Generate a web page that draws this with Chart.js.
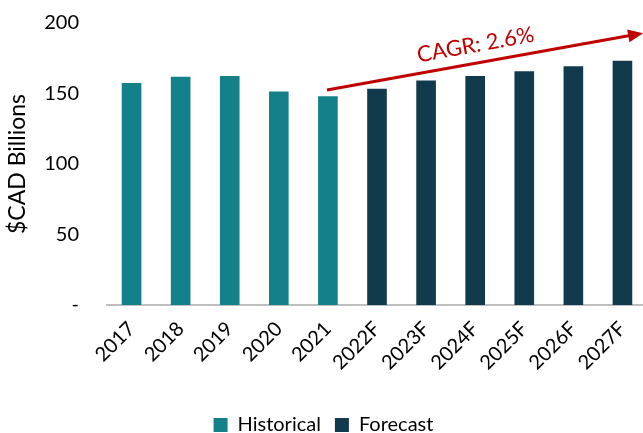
<!DOCTYPE html>
<html>
<head>
<meta charset="utf-8">
<script src="https://cdn.jsdelivr.net/npm/chart.js@4/dist/chart.umd.min.js"></script>
<style>
  html, body { margin: 0; padding: 0; background: #fff; overflow: hidden; }
  #wrap { width: 647px; height: 433px; }
</style>
</head>
<body>
<div id="wrap"><canvas id="chart"></canvas></div>
<script>
// chart data
const years = ["2017", "2018", "2019", "2020", "2021", "2022F", "2023F", "2024F", "2025F", "2026F", "2027F"];
const historical = [157.5, 161.8, 162.5, 151.4, 148.1, null, null, null, null, null, null];
const forecast = [null, null, null, null, null, 153.3, 159.2, 162.5, 165.8, 169.3, 173.2];
const yTicks = [0, 50, 100, 150, 200];
const cagrLabel = "CAGR: 2.6%";
// arrow anchors: [category index, value]
const cagrFrom = [3.98, 152.5];
const cagrTo = [10.42, 192.8];

const FONT = "Lato, 'Open Sans', sans-serif";

// draws the red CAGR arrow + label using the chart scales
const cagrArrow = {
  id: "cagrArrow",
  afterDatasetsDraw(chart) {
    const { ctx, scales } = chart;
    const x1 = scales.x.getPixelForValue(cagrFrom[0]);
    const y1 = scales.y.getPixelForValue(cagrFrom[1]);
    const x2 = scales.x.getPixelForValue(cagrTo[0]);
    const y2 = scales.y.getPixelForValue(cagrTo[1]);
    const ang = Math.atan2(y2 - y1, x2 - x1);
    const head = 15;

    ctx.save();
    ctx.strokeStyle = "#C00000";
    ctx.fillStyle = "#C00000";
    ctx.lineWidth = 3;
    ctx.beginPath();
    ctx.moveTo(x1, y1);
    ctx.lineTo(x2 - head * 0.8 * Math.cos(ang), y2 - head * 0.8 * Math.sin(ang));
    ctx.stroke();

    ctx.translate(x2, y2);
    ctx.rotate(ang);
    ctx.beginPath();
    ctx.moveTo(0, 0);
    ctx.lineTo(-head, -6.5);
    ctx.lineTo(-head, 6.5);
    ctx.closePath();
    ctx.fill();
    ctx.restore();

    // label above the arrow
    ctx.save();
    const mx = x1 + (x2 - x1) * 0.48;
    const my = y1 + (y2 - y1) * 0.48;
    ctx.translate(mx, my);
    ctx.rotate(ang);
    ctx.fillStyle = "#C00000";
    ctx.font = "22px " + FONT;
    ctx.textAlign = "center";
    ctx.textBaseline = "bottom";
    ctx.fillText(cagrLabel, 0, -7);
    ctx.restore();
  },
};

new Chart(document.getElementById("chart"), {
  type: "bar",
  data: {
    labels: years,
    datasets: [
      {
        label: "Historical",
        data: historical,
        backgroundColor: "#14808A",
      },
      {
        label: "Forecast",
        data: forecast,
        backgroundColor: "#113B4D",
      },
    ],
  },
  options: {
    responsive: true,
    maintainAspectRatio: false,
    animation: false,
    layout: { padding: { top: 23, right: 0, left: 0, bottom: -12 } },
    datasets: {
      bar: { categoryPercentage: 1, barPercentage: 0.4 },
    },
    scales: {
      x: {
        stacked: true,
        afterFit: (scale) => {
          scale.height = 96;
        },
        // tick marks hidden (grid off) but their length still spaces the labels
        grid: { display: false, drawTicks: true, tickLength: 12 },
        border: { display: true, color: "#BFBFBF", width: 2 },
        ticks: {
          color: "#000",
          font: { family: FONT, size: 20 },
          minRotation: 45,
          maxRotation: 45,
          padding: 0,
          autoSkip: false,
        },
      },
      y: {
        stacked: true,
        min: 0,
        max: 200,
        afterBuildTicks: (scale) => {
          scale.ticks = yTicks.map((v) => ({ value: v }));
        },
        afterFit: (scale) => {
          scale.width = 107;
        },
        grid: { display: false, drawTicks: true, tickLength: 24 },
        border: { display: false },
        ticks: {
          color: "#000",
          font: { family: FONT, size: 20 },
          padding: 4,
          callback: (v) => (v === 0 ? "-" : v),
        },
        title: {
          display: true,
          text: "$CAD Billions",
          color: "#000",
          font: { family: FONT, size: 23 },
          padding: { top: 4, bottom: 0 },
        },
      },
    },
    plugins: {
      legend: {
        position: "bottom",
        labels: {
          color: "#000",
          font: { family: FONT, size: 20 },
          boxWidth: 14,
          boxHeight: 14,
          padding: 14,
        },
      },
      tooltip: { enabled: false },
    },
  },
  plugins: [cagrArrow],
});
</script>
</body>
</html>
